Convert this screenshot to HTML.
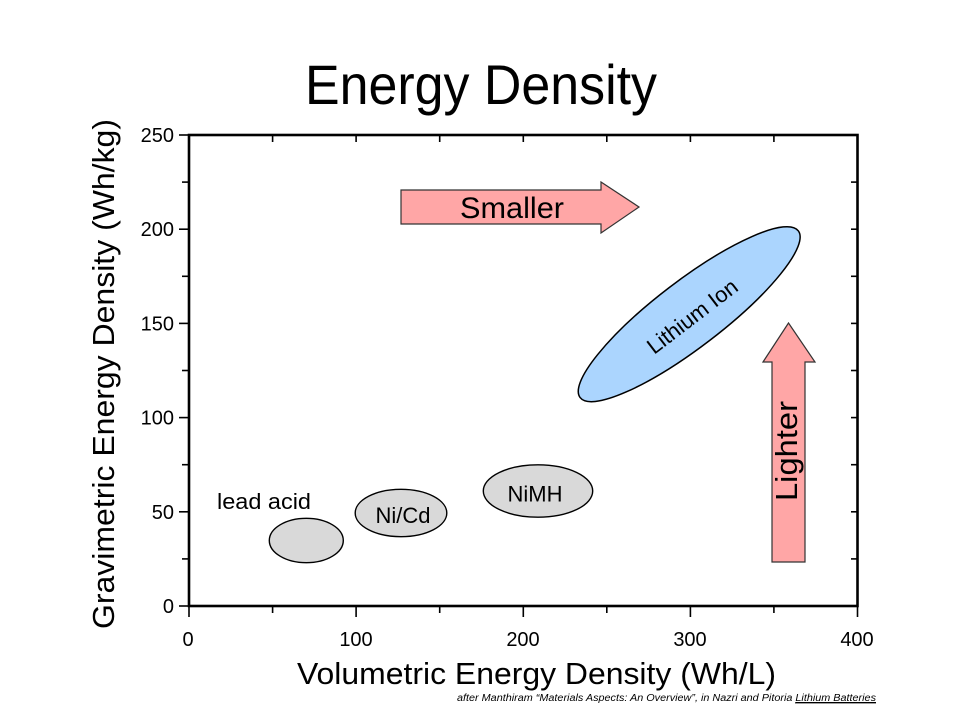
<!DOCTYPE html>
<html>
<head>
<meta charset="utf-8">
<style>
html,body{margin:0;padding:0;background:#fff;}
svg{display:block;}
text{font-family:"Liberation Sans",Arial,sans-serif;fill:#000;}
</style>
</head>
<body>
<svg width="960" height="720" viewBox="0 0 960 720" xmlns="http://www.w3.org/2000/svg">
  <rect width="960" height="720" fill="#fff"/>
  <!-- Title -->
  <text x="305" y="104" font-size="56" textLength="352" lengthAdjust="spacingAndGlyphs">Energy Density</text>

  <!-- Axes frame -->
  <rect x="189" y="135" width="668.5" height="471" fill="none" stroke="#000" stroke-width="2.6"/>

  <!-- Left ticks (outward) -->
  <g stroke="#000" stroke-width="1.6">
    <line x1="179" y1="135" x2="189" y2="135"/>
    <line x1="182" y1="182.1" x2="189" y2="182.1"/>
    <line x1="179" y1="229.2" x2="189" y2="229.2"/>
    <line x1="182" y1="276.3" x2="189" y2="276.3"/>
    <line x1="179" y1="323.4" x2="189" y2="323.4"/>
    <line x1="182" y1="370.5" x2="189" y2="370.5"/>
    <line x1="179" y1="417.6" x2="189" y2="417.6"/>
    <line x1="182" y1="464.7" x2="189" y2="464.7"/>
    <line x1="179" y1="511.8" x2="189" y2="511.8"/>
    <line x1="182" y1="558.9" x2="189" y2="558.9"/>
    <line x1="179" y1="606" x2="189" y2="606"/>
  </g>
  <!-- Right ticks (inward) -->
  <g stroke="#000" stroke-width="1.6">
    <line x1="851" y1="182.1" x2="857.5" y2="182.1"/>
    <line x1="851" y1="229.2" x2="857.5" y2="229.2"/>
    <line x1="851" y1="276.3" x2="857.5" y2="276.3"/>
    <line x1="851" y1="323.4" x2="857.5" y2="323.4"/>
    <line x1="851" y1="370.5" x2="857.5" y2="370.5"/>
    <line x1="851" y1="417.6" x2="857.5" y2="417.6"/>
    <line x1="851" y1="464.7" x2="857.5" y2="464.7"/>
    <line x1="851" y1="511.8" x2="857.5" y2="511.8"/>
    <line x1="851" y1="558.9" x2="857.5" y2="558.9"/>
  </g>
  <!-- Bottom ticks (outward) -->
  <g stroke="#000" stroke-width="1.6">
    <line x1="189" y1="606" x2="189" y2="617"/>
    <line x1="272.6" y1="606" x2="272.6" y2="613"/>
    <line x1="356.1" y1="606" x2="356.1" y2="617"/>
    <line x1="439.7" y1="606" x2="439.7" y2="613"/>
    <line x1="523.3" y1="606" x2="523.3" y2="617"/>
    <line x1="606.8" y1="606" x2="606.8" y2="613"/>
    <line x1="690.4" y1="606" x2="690.4" y2="617"/>
    <line x1="773.9" y1="606" x2="773.9" y2="613"/>
    <line x1="857.5" y1="606" x2="857.5" y2="617"/>
  </g>
  <!-- Top ticks (inward) -->
  <g stroke="#000" stroke-width="1.6">
    <line x1="272.6" y1="135" x2="272.6" y2="142"/>
    <line x1="356.1" y1="135" x2="356.1" y2="142"/>
    <line x1="439.7" y1="135" x2="439.7" y2="142"/>
    <line x1="523.3" y1="135" x2="523.3" y2="142"/>
    <line x1="606.8" y1="135" x2="606.8" y2="142"/>
    <line x1="690.4" y1="135" x2="690.4" y2="142"/>
    <line x1="773.9" y1="135" x2="773.9" y2="142"/>
  </g>

  <!-- Y tick labels -->
  <g font-size="20" text-anchor="end">
    <text x="174" y="142">250</text>
    <text x="174" y="236.2">200</text>
    <text x="174" y="330.4">150</text>
    <text x="174" y="424.6">100</text>
    <text x="174" y="518.8">50</text>
    <text x="174" y="613">0</text>
  </g>
  <!-- X tick labels -->
  <g font-size="20" text-anchor="middle">
    <text x="188" y="646">0</text>
    <text x="356" y="646">100</text>
    <text x="523" y="646">200</text>
    <text x="690" y="646">300</text>
    <text x="857" y="646">400</text>
  </g>

  <!-- Axis labels -->
  <text x="297" y="684" font-size="31" textLength="479" lengthAdjust="spacingAndGlyphs">Volumetric Energy Density (Wh/L)</text>
  <text transform="translate(114,374) rotate(-90)" x="0" y="0" font-size="31" text-anchor="middle" textLength="510" lengthAdjust="spacingAndGlyphs">Gravimetric Energy Density (Wh/kg)</text>

  <!-- Footnote -->
  <text x="457" y="701" font-size="10" font-style="italic" textLength="419" lengthAdjust="spacingAndGlyphs">after Manthiram “Materials Aspects: An Overview”, in Nazri and Pitoria <tspan text-decoration="underline">Lithium Batteries</tspan></text>
  <line x1="795" y1="703" x2="876" y2="703" stroke="#000" stroke-width="0.8"/>

  <!-- Smaller arrow -->
  <polygon points="401,190 601,190 601,182 639,207 601,233 601,224 401,224" fill="#ffa6a6" stroke="#333" stroke-width="1.2"/>
  <text x="512" y="218" font-size="30" text-anchor="middle" textLength="104" lengthAdjust="spacingAndGlyphs">Smaller</text>

  <!-- Lighter arrow -->
  <polygon points="772,562 772,362 763,362 788.5,323 815,362 805,362 805,562" fill="#ffa6a6" stroke="#333" stroke-width="1.2"/>
  <text transform="translate(797,451) rotate(-90)" x="0" y="0" font-size="31" text-anchor="middle" textLength="100" lengthAdjust="spacingAndGlyphs">Lighter</text>

  <!-- Lithium Ion ellipse -->
  <ellipse cx="689.2" cy="314.2" rx="137.3" ry="33.3" transform="rotate(-37.4 689.2 314.2)" fill="#abd5fe" stroke="#000" stroke-width="1.5"/>
  <text transform="translate(692,316) rotate(-37.4)" x="0" y="8" font-size="22" text-anchor="middle">Lithium Ion</text>

  <!-- lead acid -->
  <ellipse cx="306.3" cy="540.5" rx="37" ry="22.2" fill="#d9d9d9" stroke="#000" stroke-width="1.4"/>
  <text x="217" y="509" font-size="22" textLength="94" lengthAdjust="spacingAndGlyphs">lead acid</text>

  <!-- Ni/Cd -->
  <ellipse cx="401" cy="513" rx="45.8" ry="23.7" fill="#d9d9d9" stroke="#000" stroke-width="1.4"/>
  <text x="403" y="523" font-size="22" text-anchor="middle">Ni/Cd</text>

  <!-- NiMH -->
  <ellipse cx="538" cy="491" rx="54.7" ry="26.2" fill="#d9d9d9" stroke="#000" stroke-width="1.4"/>
  <text x="535" y="501.5" font-size="22" text-anchor="middle">NiMH</text>
</svg>
</body>
</html>
